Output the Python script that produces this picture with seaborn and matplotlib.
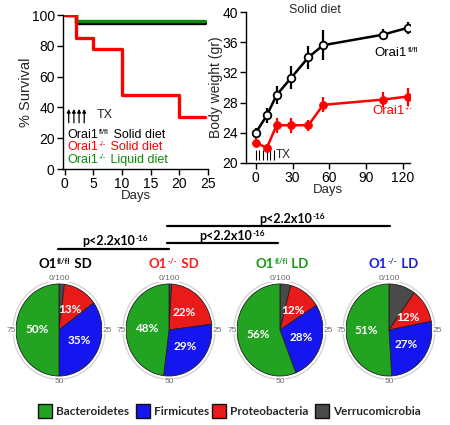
import numpy as np
import pandas as pd
import matplotlib
matplotlib.use('Agg')
import matplotlib.pyplot as plt
import seaborn as sns
from matplotlib.patches import Rectangle, Circle
from matplotlib.offsetbox import TextArea, HPacker, AnnotationBbox

# ---------------- data ----------------
surv_days = [0, 2, 5, 10, 20, 24.5]
surv_flfl_solid = [100, 95, 95, 95, 95, 95]
surv_ko_solid = [100, 85, 78, 48, 34, 34]
surv_ko_liquid = [100, 96, 96, 96, 96, 96]
tx_days_surv = [0.7, 1.6, 2.5, 3.4]

bw_days = [0, 9, 17, 29, 43, 55, 104, 124]
bw_flfl = [24.0, 26.3, 29.0, 31.3, 34.0, 35.6, 37.0, 37.9]
bw_flfl_err = [0.7, 1.0, 1.2, 1.5, 1.5, 2.0, 0.7, 0.8]
bw_ko = [22.7, 22.0, 25.0, 25.0, 25.0, 27.7, 28.4, 28.8]
bw_ko_err = [0.6, 0.5, 1.0, 1.0, 0.7, 1.0, 1.0, 1.2]
tx_days_bw = [0, 3, 6, 9, 12, 15]

group_names = [("O1", "fl/fl", " SD"), ("O1", "-/-", " SD"),
               ("O1", "fl/fl", " LD"), ("O1", "-/-", " LD")]
group_colors = ['#000000', '#ff1a1a', '#159a15', '#1a1aee']
phyla = ['Verrucomicrobia', 'Proteobacteria', 'Firmicutes', 'Bacteroidetes']
verrucomicrobia = [2, 1, 4, 10]
proteobacteria = [13, 22, 12, 12]
firmicutes = [35, 29, 28, 27]
bacteroidetes = [50, 48, 56, 51]
phylum_colors = {'Bacteroidetes': '#22a322', 'Firmicutes': '#1515f0',
                 'Proteobacteria': '#e81a1a', 'Verrucomicrobia': '#4a4a4a'}
legend_order = ['Bacteroidetes', 'Firmicutes', 'Proteobacteria', 'Verrucomicrobia']
p_text = ("p<2.2x10", "-16")

# ---------------- style ----------------
sns.set_theme(style='ticks')
plt.rcParams['font.family'] = ['Liberation Sans', 'DejaVu Sans']
plt.rcParams['axes.linewidth'] = 1.0

W, H = 450, 425
fig = plt.figure(figsize=(4.5, 4.25), dpi=100)
BOLD_FAM = ['Lato', 'DejaVu Sans']


def px(l, t, w, h):
    return [l / W, 1 - (t + h) / H, w / W, h / H]


def rich(ax, xy, base, sup, rest='', align=(0, 0.5), xycoords='data',
         fontsize=9, sup_scale=0.62, **kw):
    children = [TextArea(base, textprops=dict(fontsize=fontsize, **kw)),
                TextArea(sup, textprops=dict(fontsize=fontsize * sup_scale, **kw))]
    if rest:
        children.append(TextArea(rest, textprops=dict(fontsize=fontsize, **kw)))
    box = HPacker(children=children, align='top', pad=0, sep=0.5)
    ab = AnnotationBbox(box, xy, xycoords=xycoords, box_alignment=align,
                        frameon=False, pad=0, annotation_clip=False)
    ax.add_artist(ab)
    return ab


def style_axes(ax):
    sns.despine(ax=ax)
    ax.tick_params(direction='out', length=4, width=1, labelsize=10, pad=2,
                   colors='black')
    for s in ax.spines.values():
        s.set_color('black')


# ---------------- survival ----------------
ax1 = fig.add_axes(px(63, 15, 145, 154))
sdf = pd.DataFrame({'day': surv_days * 3,
                    'surv': surv_flfl_solid + surv_ko_liquid + surv_ko_solid,
                    'grp': ['a'] * 6 + ['b'] * 6 + ['c'] * 6})
sns.lineplot(data=sdf, x='day', y='surv', hue='grp',
             palette={'a': 'black', 'b': '#0a8a0a', 'c': '#ff0000'},
             drawstyle='steps-post', linewidth=2.4, legend=False, ax=ax1)
ax1.set_xlim(-0.3, 25)
ax1.set_ylim(0, 100)
ax1.set_xticks([0, 5, 10, 15, 20, 25])
ax1.set_yticks([0, 20, 40, 60, 80, 100])
ax1.set_xlabel('Days', fontsize=9.5, labelpad=-1)
ax1.set_ylabel('% Survival', fontsize=10.5, labelpad=-1)
style_axes(ax1)
for d in tx_days_surv:
    ax1.annotate('', xy=(d, 39), xytext=(d, 30),
                 arrowprops=dict(arrowstyle='-|>', color='black', lw=0.9,
                                 mutation_scale=5, shrinkA=0, shrinkB=0))
ax1.text(5.6, 35, 'TX', fontsize=9, va='center')
rich(ax1, (0.5, 22), "Orai1", "fl/fl", " Solid diet", fontsize=9, color='black')
rich(ax1, (0.5, 14), "Orai1", "-/-", " Solid diet", fontsize=9, color='#ff0000')
rich(ax1, (0.5, 6), "Orai1", "-/-", " Liquid diet", fontsize=9, color='#0a8a0a')

# ---------------- body weight ----------------
ax2 = fig.add_axes(px(246, 12, 164, 151))
bdf = pd.DataFrame({'day': bw_days * 2, 'w': bw_flfl + bw_ko,
                    'g': ['fl'] * len(bw_days) + ['ko'] * len(bw_days)})
ax2.errorbar(bw_days, bw_flfl, yerr=bw_flfl_err, fmt='none',
             ecolor='black', elinewidth=1.6, capsize=0, zorder=2)
ax2.errorbar(bw_days, bw_ko, yerr=bw_ko_err, fmt='none',
             ecolor='#ff0000', elinewidth=1.6, capsize=0, zorder=2)
sns.lineplot(data=bdf[bdf.g == 'fl'], x='day', y='w', color='black',
             linewidth=1.8, marker='o', markersize=5.5, markerfacecolor='white',
             markeredgecolor='black', markeredgewidth=1.3, ax=ax2, zorder=3)
sns.lineplot(data=bdf[bdf.g == 'ko'], x='day', y='w', color='#ff0000',
             linewidth=1.8, marker='o', markersize=5.5, markerfacecolor='#ff0000',
             markeredgecolor='#ff0000', ax=ax2, zorder=3)
ax2.set_xlim(-8, 126)
ax2.set_ylim(20, 40)
ax2.set_xticks([0, 30, 60, 90, 120])
ax2.set_yticks([20, 24, 28, 32, 36, 40])
ax2.set_xlabel('Days', fontsize=9.5, labelpad=-1)
ax2.set_ylabel('Body weight (gr)', fontsize=10, labelpad=-1)
style_axes(ax2)
ax2.vlines(tx_days_bw, 20.4, 21.7, color='black', lw=0.8)
ax2.text(16.5, 21.05, 'TX', fontsize=8.5, va='center')
ax2.text(48, 40.3, 'Solid diet', fontsize=9, ha='center', va='center',
         clip_on=False)
rich(ax2, (97, 34.6), "Orai1", "fl/fl", fontsize=9.5, color='black')
rich(ax2, (95, 26.9), "Orai1", "-/-", fontsize=9.5, color='#ff0000')

# ---------------- pies ----------------
pie_cx = [59, 169, 280, 389]
pie_cy = 330
rx, ry = 43, 46
vals_by_phylum = {'Verrucomicrobia': verrucomicrobia,
                  'Proteobacteria': proteobacteria,
                  'Firmicutes': firmicutes, 'Bacteroidetes': bacteroidetes}
for i, cx in enumerate(pie_cx):
    pw, ph = 2 * 1.3 * rx, 2 * 1.3 * ry
    axp = fig.add_axes(px(cx - pw / 2, pie_cy - ph / 2, pw, ph))
    vals = [vals_by_phylum[p][i] for p in phyla]
    wedges, _ = axp.pie(vals, colors=[phylum_colors[p] for p in phyla],
                        startangle=90, counterclock=False,
                        wedgeprops=dict(edgecolor='#202020', linewidth=0.6))
    axp.set_aspect('auto')
    axp.set_xlim(-1.3, 1.3)
    axp.set_ylim(-1.3, 1.3)
    axp.add_patch(Circle((0, 0), 1.07, fill=False, ec='#d4d4d4', lw=1.0))
    for p, w in zip(phyla, wedges):
        if p == 'Verrucomicrobia':
            continue
        th = np.deg2rad((w.theta1 + w.theta2) / 2)
        r = 0.52
        axp.text(r * np.cos(th), r * np.sin(th), f"{vals_by_phylum[p][i]}%",
                 ha='center', va='center', color='white', fontsize=8.5,
                 fontweight='bold', family=BOLD_FAM)
    for (x, y, s) in [(0, 1.13, '0/100'), (1.12, 0, '25'), (0, -1.12, '50'),
                      (-1.12, 0, '75')]:
        axp.text(x, y, s, ha='center', va='center', fontsize=6,
                 color='#6a6a6a',
                 bbox=dict(fc='white', ec='none', pad=0.3))

# ---------------- annotations overlay ----------------
ann = fig.add_axes([0, 0, 1, 1])
ann.set_xlim(0, W)
ann.set_ylim(H, 0)
ann.axis('off')
ann.patch.set_visible(False)

title_x = [65, 174, 282, 393]
for x, (b, s, r), c in zip(title_x, group_names, group_colors):
    rich(ann, (x, 264), b, s, r, align=(0.5, 0.5), fontsize=9.5,
         sup_scale=0.6, color=c, fontweight='bold', family=BOLD_FAM)

for (x0, x1, y, tx, ty) in [(58, 169, 249, 115, 241),
                            (167, 278, 243, 232, 236),
                            (167, 390, 226, 292, 219)]:
    ann.plot([x0, x1], [y, y], color='black', lw=1.6)
    rich(ann, (tx, ty), p_text[0], p_text[1], align=(0.5, 0.5), fontsize=9,
         sup_scale=0.65, color='black', fontweight='bold', family=BOLD_FAM)

leg_x = [38, 136, 212, 315]
for x, p in zip(leg_x, legend_order):
    ann.add_patch(Rectangle((x, 404), 14, 14, fc=phylum_colors[p],
                            ec='#111111', lw=1.0))
    ann.text(x + 18, 411.5, p, ha='left', va='center', fontsize=8.5,
             fontweight='bold', family=BOLD_FAM)

fig.savefig('out.png', dpi=100)
